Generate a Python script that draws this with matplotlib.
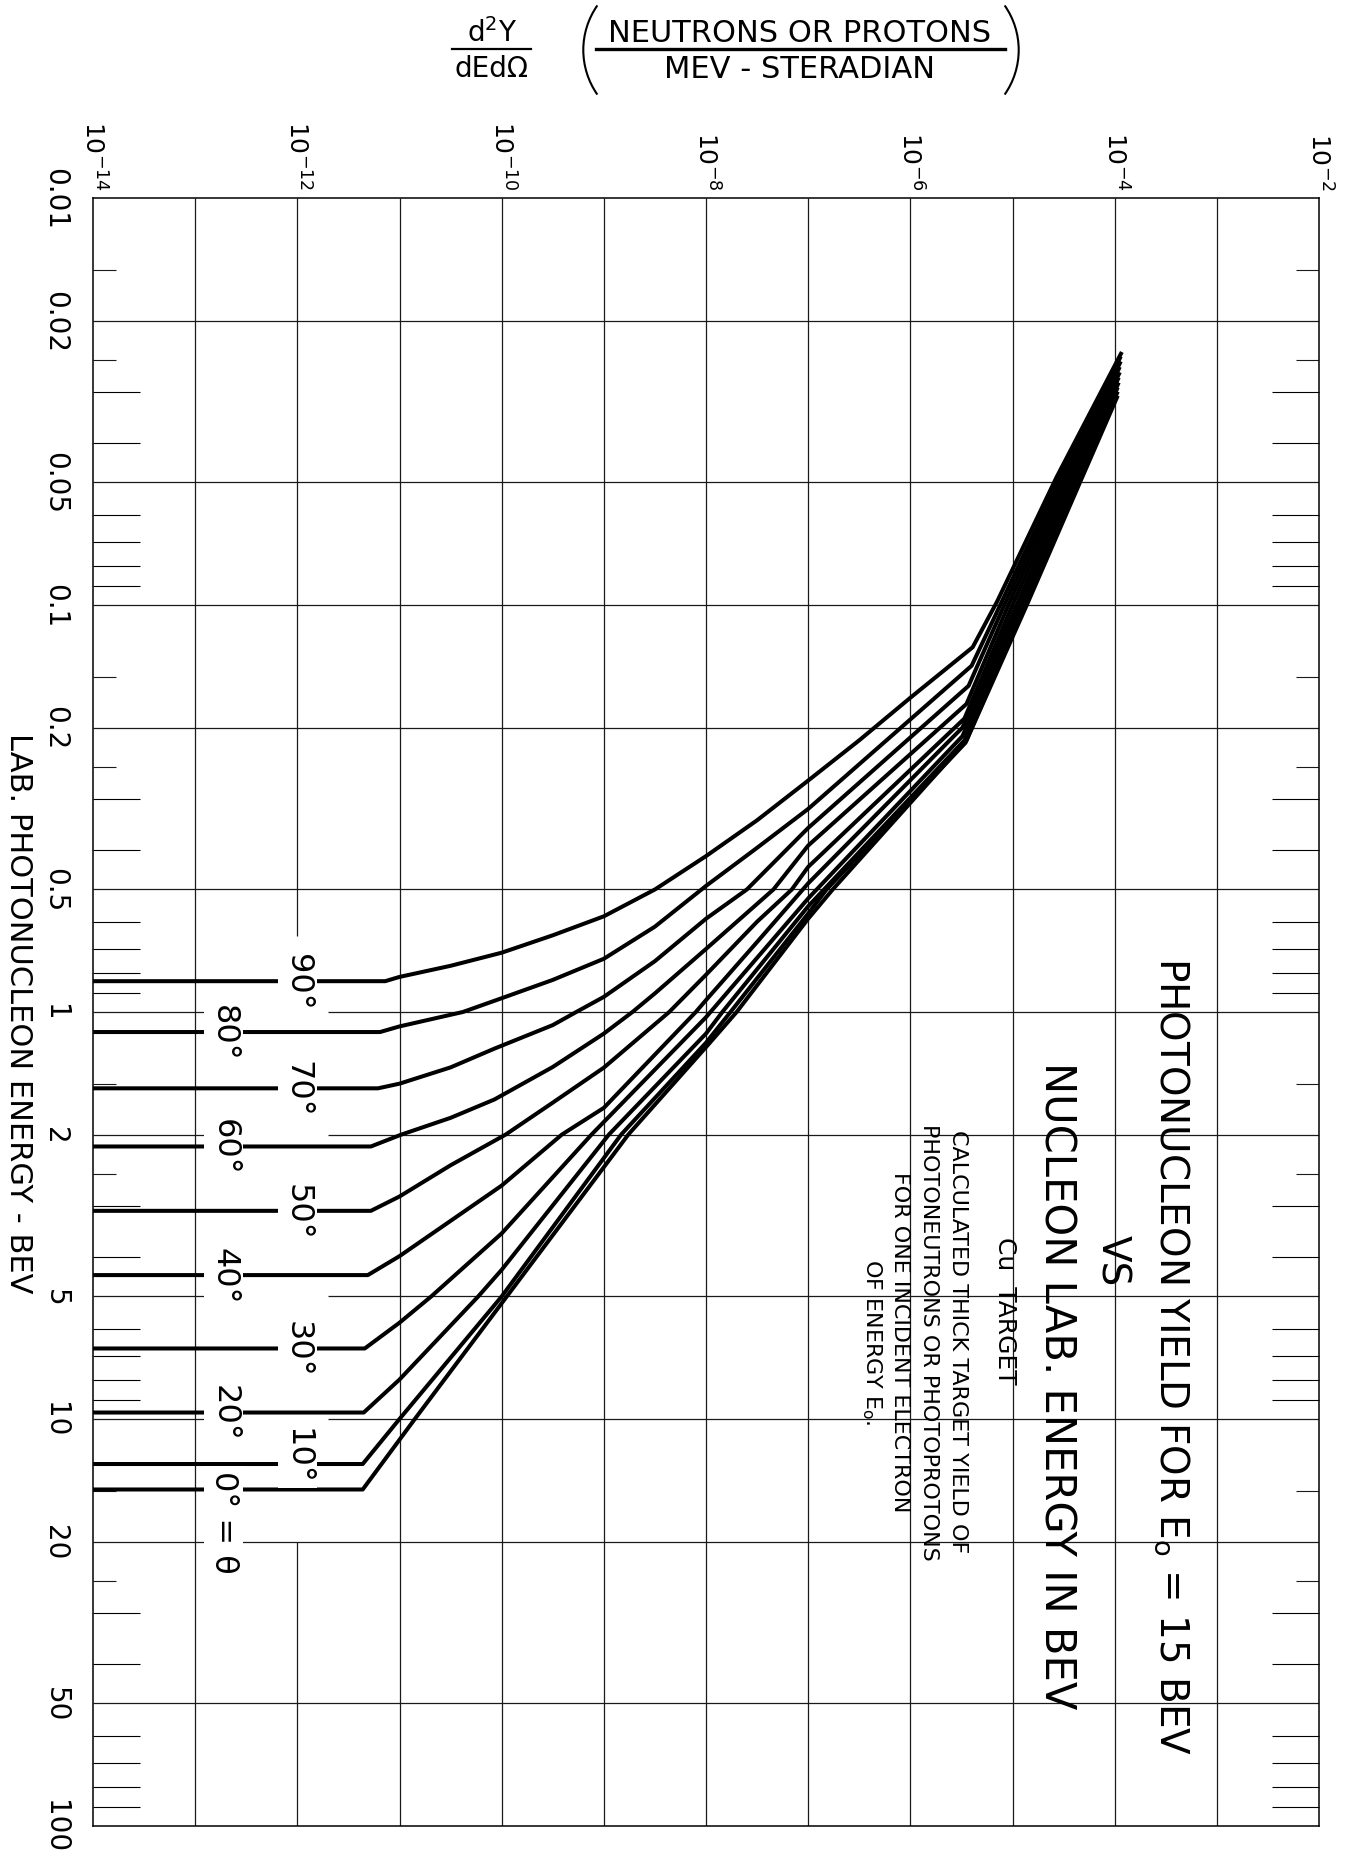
import numpy as np
import matplotlib
matplotlib.use("Agg")
from matplotlib import pyplot as plt
from matplotlib.lines import Line2D
from matplotlib.patches import Arc
from matplotlib.ticker import NullLocator

# Angles of the curves (the last point of each curve is its cut-off energy)
angles = [90, 80, 70, 60, 50, 40, 30, 20, 10, 0]

# Lab energy in BeV, and log10 of d2Y/dE dOmega per angle
energy_90 = [0.0239, 0.0486, 0.098, 0.127, 0.169, 0.215, 0.27, 0.338, 0.414, 0.50, 0.582,
             0.648, 0.715, 0.77, 0.82, 0.84, 0.84]
logy_90 = [-3.93, -4.57, -5.15, -5.39, -6.0, -6.5, -7.0, -7.5, -8.0, -8.5, -9.0,
           -9.5, -10.0, -10.5, -11.0, -11.14, -14]

energy_80 = [0.0245, 0.05, 0.1, 0.141, 0.317, 0.395, 0.49, 0.617, 0.74, 0.834, 0.925,
             1.0, 1.085, 1.12, 1.12]
logy_80 = [-3.94, -4.56, -5.12, -5.40, -7.0, -7.5, -8.0, -8.5, -9.0, -9.5, -10.0,
           -10.38, -11.0, -11.19, -14]

energy_70 = [0.0252, 0.05, 0.1, 0.158, 0.353, 0.50, 0.59, 0.75, 0.918, 1.0, 1.077,
             1.23, 1.368, 1.50, 1.54, 1.54]
logy_70 = [-3.94, -4.53, -5.08, -5.43, -7.0, -7.6, -8.0, -8.5, -9.0, -9.27, -9.5,
           -10.07, -10.5, -11.0, -11.21, -14]

energy_60 = [0.026, 0.05, 0.1, 0.175, 0.39, 0.50, 0.70, 0.90, 1.0, 1.13, 1.365,
             1.64, 1.82, 2.0, 2.14, 2.14]
logy_60 = [-3.95, -4.50, -5.04, -5.45, -7.0, -7.34, -8.0, -8.5, -8.72, -9.0, -9.5,
           -10.07, -10.5, -10.98, -11.28, -14]

energy_50 = [0.0268, 0.05, 0.1, 0.19, 0.44, 0.50, 0.60, 0.81, 1.0, 1.37, 1.67,
             2.0, 2.38, 2.84, 3.08, 3.08]
logy_50 = [-3.95, -4.47, -5.00, -5.47, -7.0, -7.16, -7.5, -8.0, -8.36, -9.0, -9.5,
           -9.96, -10.5, -11.0, -11.28, -14]

energy_40 = [0.0276, 0.05, 0.1, 0.20, 0.483, 0.673, 0.935, 1.0, 1.72, 2.0, 2.67,
             3.26, 3.98, 4.43, 4.43]
logy_40 = [-3.96, -4.44, -4.96, -5.49, -7.0, -7.5, -8.0, -8.1, -9.0, -9.41, -10.0,
           -10.5, -11.0, -11.31, -14]

energy_30 = [0.0284, 0.05, 0.1, 0.21, 0.526, 1.03, 2.0, 3.5, 5.0, 5.8, 6.71, 6.71]
logy_30 = [-3.96, -4.41, -4.93, -5.49, -7.00, -8.00, -9.12, -10.0, -10.69, -11.0, -11.34, -14]

energy_20 = [0.0292, 0.05, 0.1, 0.215, 0.55, 1.0, 1.13, 2.0, 4.3, 5.0, 8.0, 9.64, 9.64]
logy_20 = [-3.97, -4.39, -4.90, -5.47, -7.00, -7.84, -8.00, -8.95, -10.0, -10.23, -11.0, -11.35, -14]

energy_10 = [0.0299, 0.05, 0.1, 0.218, 0.5, 0.573, 1.0, 1.19, 2.0, 5.0, 10.0, 12.9, 12.9]
logy_10 = [-3.97, -4.36, -4.88, -5.46, -6.82, -7.00, -7.76, -8.00, -8.83, -10.0, -11.0, -11.36, -14]

energy_0 = [0.0306, 0.05, 0.1, 0.215, 0.5, 0.59, 1.0, 1.22, 2.0, 5.0, 10.0, 14.9, 14.9]
logy_0 = [-3.97, -4.34, -4.86, -5.45, -6.76, -7.00, -7.70, -8.00, -8.76, -9.95, -10.85, -11.36, -14]

energies = [energy_90, energy_80, energy_70, energy_60, energy_50,
            energy_40, energy_30, energy_20, energy_10, energy_0]
log_yields = [logy_90, logy_80, logy_70, logy_60, logy_50,
              logy_40, logy_30, logy_20, logy_10, logy_0]

# Axis ticks
energy_ticks = [0.01, 0.02, 0.05, 0.1, 0.2, 0.5, 1, 2, 5, 10, 20, 50, 100]
energy_labels = ["0.01", "0.02", "0.05", "0.1", "0.2", "0.5", "1", "2", "5", "10", "20", "50", "100"]
yield_ticks = [1e-14, 1e-12, 1e-10, 1e-8, 1e-6, 1e-4, 1e-2]
yield_labels = [r"$10^{-14}$", r"$10^{-12}$", r"$10^{-10}$", r"$10^{-8}$",
                r"$10^{-6}$", r"$10^{-4}$", r"$10^{-2}$"]
yield_grid = [1e-13, 1e-12, 1e-11, 1e-10, 1e-9, 1e-8, 1e-7, 1e-6, 1e-5, 1e-4, 1e-3]
energy_grid = [0.02, 0.05, 0.1, 0.2, 0.5, 1, 2, 5, 10, 20, 50]
minor_long = [m * d for d in [0.01, 0.1, 1, 10] for m in [3, 4, 6, 7, 8, 9]]
minor_short = [m * d for d in [0.01, 0.1, 1, 10] for m in [1.5, 2.5]]

W, H = 1362, 1865


def fx(px):
    return px / W


def fy(py):
    return 1 - py / H


fig = plt.figure(figsize=(W / 100, H / 100), dpi=100)
ax = fig.add_axes([fx(93), fy(1827), fx(1319) - fx(93), fy(199) - fy(1827)])
ax.set_xscale("log")
ax.set_yscale("log")
ax.set_xlim(1e-14, 1e-2)
ax.set_ylim(100, 0.01)
for sp in ax.spines.values():
    sp.set_linewidth(1.1)

# grid, with the blank band left for the angle labels
gkw = dict(color="0.1", lw=0.9, zorder=1)
for g in yield_grid:
    if g == 1e-12:
        ax.vlines(g, 0.01, 0.65, **gkw)
        ax.vlines(g, 20, 100, **gkw)
    else:
        ax.vlines(g, 0.01, 100, **gkw)
for g in energy_grid:
    if g in (1, 2, 5, 10):
        ax.hlines(g, 1e-14, 10**-12.85, **gkw)
        ax.hlines(g, 10**-11.7, 1e-2, **gkw)
    else:
        ax.hlines(g, 1e-14, 1e-2, **gkw)

# ticks
ax.xaxis.tick_top()
ax.set_xticks(yield_ticks)
ax.set_xticklabels(yield_labels, rotation=-90, fontsize=18)
ax.xaxis.set_minor_locator(NullLocator())
ax.tick_params(axis="x", which="major", length=0, pad=6)

ax.set_yticks(energy_ticks)
ax.set_yticklabels(energy_labels, rotation=-90, va="center", fontsize=20)
ax.set_yticks(minor_long, minor=True)
ax.tick_params(axis="y", which="major", length=0, pad=17)
ax.tick_params(axis="y", which="minor", direction="in", length=34, width=0.8,
               left=True, right=True, labelleft=False)
ytr = ax.get_yaxis_transform()
ax.hlines(minor_short, 0, 0.019, transform=ytr, color="0.1", lw=0.8)
ax.hlines(minor_short, 0.981, 1, transform=ytr, color="0.1", lw=0.8)

# curves
for angle, e, ly in zip(angles, energies, log_yields):
    ax.plot(10.0 ** np.array(ly), e, color="black", lw=2.9,
            solid_joinstyle="round", solid_capstyle="butt", zorder=3)

# angle labels sitting on the horizontal ends
box = dict(boxstyle="square,pad=0.12", facecolor="white", edgecolor="none")
for i, (angle, e) in enumerate(zip(angles, energies)):
    xpos = 10**-12.0 if i % 2 == 0 else 10**-12.72
    if angle == 0:
        ax.annotate("0° = θ", xy=(xpos, e[-1]), xytext=(0, 14), textcoords="offset points",
                    rotation=-90, ha="center", va="top", fontsize=23, bbox=box, zorder=4)
    else:
        lift = 6 if angle == 10 else 0
        ax.annotate(f"{angle}°", xy=(xpos, e[-1]), xytext=(0, lift), textcoords="offset points",
                    rotation=-90, ha="center", va="center", fontsize=23, bbox=box, zorder=4)

# y-axis title (top), upright
fig.text(fx(492), fy(33), r"$\mathregular{d^2Y}$", ha="center", va="center", fontsize=20)
fig.add_artist(Line2D([fx(452), fx(531)], [fy(50), fy(50)], transform=fig.transFigure,
                      color="black", lw=1.6))
fig.text(fx(491), fy(69), "dEdΩ", ha="center", va="center", fontsize=20)
fig.text(fx(800), fy(33), "NEUTRONS OR PROTONS", ha="center", va="center", fontsize=22)
fig.add_artist(Line2D([fx(596), fx(1005)], [fy(50), fy(50)], transform=fig.transFigure,
                      color="black", lw=2.4))
fig.text(fx(800), fy(69), "MEV - STERADIAN", ha="center", va="center", fontsize=22)
fig.add_artist(Arc((6.61, (H - 51) / 100), 1.554, 1.554, theta1=145, theta2=215,
                   transform=fig.dpi_scale_trans, color="black", lw=1.5))
fig.add_artist(Arc((9.41, (H - 51) / 100), 1.554, 1.554, theta1=-35, theta2=35,
                   transform=fig.dpi_scale_trans, color="black", lw=1.5))

# x-axis title (left), rotated
fig.text(fx(18), fy(1013), "LAB. PHOTONUCLEON ENERGY - BEV", rotation=-90,
         ha="center", va="center", fontsize=22)

# chart title block
tkw = dict(rotation=-90, ha="center", va="center")
fig.text(fx(1172), fy(1356), r"PHOTONUCLEON YIELD FOR E$_{\mathregular{o}}$ = 15 BEV",
         fontsize=28, **tkw)
fig.text(fx(1112), fy(1261), "VS", fontsize=28, **tkw)
fig.text(fx(1056), fy(1386), "NUCLEON LAB. ENERGY IN BEV", fontsize=30, **tkw)
fig.text(fx(1005), fy(1311), "Cu  TARGET", fontsize=18, **tkw)
notes = ["CALCULATED THICK TARGET YIELD OF",
         "PHOTONEUTRONS OR PHOTOPROTONS",
         "FOR ONE INCIDENT ELECTRON",
         r"OF ENERGY E$_{\mathregular{o}}$."]
for xp, line in zip([958, 929, 900, 872], notes):
    fig.text(fx(xp), fy(1342), line, fontsize=16, **tkw)

fig.savefig("out.png", dpi=100, facecolor="white")
